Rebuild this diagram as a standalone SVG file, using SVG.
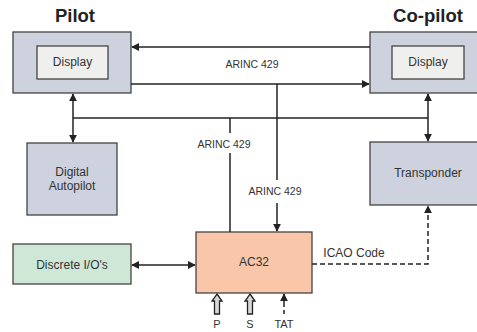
<svg xmlns="http://www.w3.org/2000/svg" width="477" height="332" viewBox="0 0 477 332">
<style>
text{font-family:"Liberation Sans",Arial,sans-serif;fill:#333;text-anchor:middle}
.t{font-size:12px}
.l{font-size:10.5px}
.s{font-size:11px}
.h{font-size:18.5px;font-weight:bold;fill:#222}
.box{stroke:#444;stroke-width:1.3}
.blue{fill:#cdd2de}
.inner{fill:#eff0ee;stroke:#444;stroke-width:1.3}
.green{fill:#cfe7d6}
.ac{fill:#f9c6aa}
.c{fill:none;stroke:#222;stroke-width:1.5}
.d{stroke-dasharray:5,3}
.blk{fill:#d8d8d8;stroke:#222;stroke-width:1.3}
</style>
<defs>
<marker id="ah2" viewBox="0 0 10 10" refX="9" refY="5" markerWidth="8" markerHeight="8" orient="auto-start-reverse" markerUnits="userSpaceOnUse">
<path d="M0,0 L10,5 L0,10 z" fill="#222"/>
</marker>
</defs>
<text class="h" x="75" y="22">Pilot</text>
<text class="h" x="428" y="22">Co-pilot</text>
<g id="pilot">
<rect class="box blue" x="13" y="32" width="118" height="61"/>
<rect class="inner" x="37" y="46" width="71" height="33"/>
<text class="t" x="72.5" y="66">Display</text>
</g>
<g id="copilot">
<rect class="box blue" x="370" y="32" width="120" height="61"/>
<rect class="inner" x="392" y="46" width="72" height="33"/>
<text class="t" x="428" y="66">Display</text>
</g>
<g id="autopilot">
<rect class="box blue" x="27" y="143" width="90" height="72"/>
<text class="t" x="72" y="176">Digital</text>
<text class="t" x="72" y="190">Autopilot</text>
</g>
<g id="transponder">
<rect class="box blue" x="370" y="142" width="120" height="63"/>
<text class="t" x="428" y="177">Transponder</text>
</g>
<g id="discrete">
<rect class="box green" x="13" y="244" width="118" height="40"/>
<text class="t" x="72" y="269">Discrete I/O's</text>
</g>
<g id="ac32">
<rect class="box ac" x="196" y="232" width="116" height="61"/>
<text class="t" x="254" y="266">AC32</text>
</g>
<g id="connectors">
<path class="c" d="M370,47 H132" marker-end="url(#ah2)"/>
<path class="c" d="M131,84 H369" marker-end="url(#ah2)"/>
<path class="c" d="M277,84 V180"/>
<path class="c" d="M277,203 V231" marker-end="url(#ah2)"/>
<path class="c" d="M73,118 H428"/>
<path class="c" d="M73,94 V142" marker-start="url(#ah2)" marker-end="url(#ah2)"/>
<path class="c" d="M428,94 V141" marker-start="url(#ah2)" marker-end="url(#ah2)"/>
<path class="c" d="M230,118 V133"/>
<path class="c" d="M230,153 V232"/>
<path class="c" d="M132,265 H195" marker-start="url(#ah2)" marker-end="url(#ah2)"/>
<path class="c d" d="M312,264 H428 V206" marker-end="url(#ah2)"/>
<polygon class="blk" points="217,294 222,301 219.5,301 219.5,314 214.5,314 214.5,301 212,301"/>
<polygon class="blk" points="250,294 255,301 252.5,301 252.5,314 247.5,314 247.5,301 245,301"/>
<path class="c" d="M284,314 V310 M284,307 V294" marker-end="url(#ah2)"/>
</g>
<text class="l" x="252" y="68">ARINC 429</text>
<text class="l" x="224" y="148">ARINC 429</text>
<text class="l" x="275" y="195">ARINC 429</text>
<text class="t" x="354" y="257">ICAO Code</text>
<text class="s" x="217" y="328">P</text>
<text class="s" x="250" y="328">S</text>
<text class="s" x="284" y="328">TAT</text>
</svg>
